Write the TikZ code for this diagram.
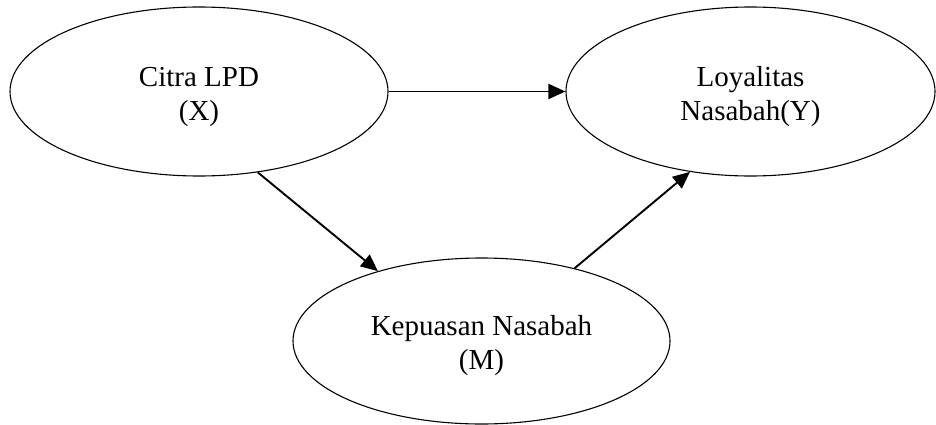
\documentclass[tikz,border=0pt]{standalone}
\usepackage{fontspec}
\setmainfont{Liberation Serif}
\usetikzlibrary{shapes.geometric,arrows.meta}
\newcommand{\topstrut}{\rule{0pt}{30pt}}
\begin{document}
\begin{tikzpicture}[x=1pt,y=-1pt,
  var/.style={ellipse,draw,line width=1.1pt,inner sep=0pt,align=center,
    font=\fontsize{29}{34}\selectfont},
  link/.style={line width=1.9pt,-{Triangle[length=17pt,width=15pt]}}]
\useasboundingbox (0,0) rectangle (936,425);
\node[var,minimum width=378pt,minimum height=169pt] (cx) at (199,91.5) {\topstrut Citra LPD\\(X)};
\node[var,minimum width=369pt,minimum height=169pt] (ly) at (750.5,91.5) {\topstrut Loyalitas\\Nasabah(Y)};
\node[var,minimum width=377pt,minimum height=166pt] (kp) at (481.5,341) {\topstrut Kepuasan Nasabah\\(M)};
\draw[link] (cx.east) -- (ly.west);
\draw[link] (cx.-54.5) -- (kp.146.4);
\draw[link] (kp.38.7) -- (ly.-127.7);
\end{tikzpicture}
\end{document}
